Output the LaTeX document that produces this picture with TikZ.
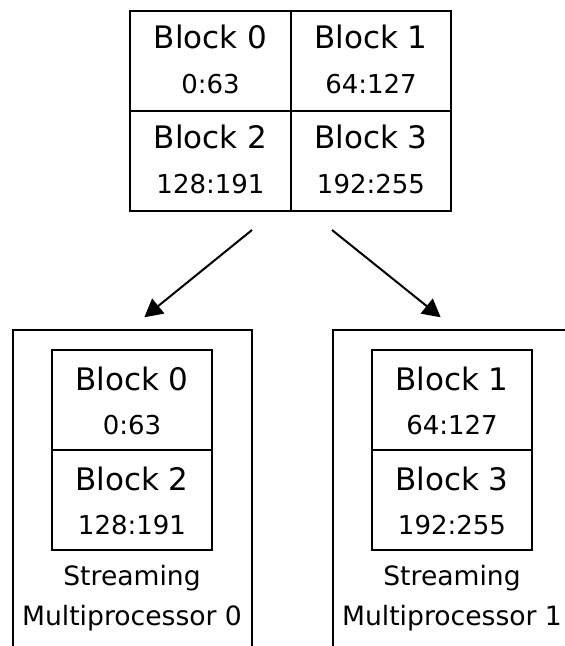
\documentclass[tikz,border=0pt]{standalone}
\usepackage{fontspec}
\setmainfont{DejaVu Sans}
\usetikzlibrary{arrows.meta}
\begin{document}
\begin{tikzpicture}[x=1pt,y=-1pt,line width=2pt,
  cell/.style={draw,line width=2pt,minimum width=160.5pt,minimum height=100pt,inner sep=0pt},
  smbox/.style={draw,line width=2pt,minimum width=239.5pt,minimum height=400pt,inner sep=0pt},
  blk/.style={font=\fontsize{31}{37}\selectfont,inner sep=0pt,anchor=base},
  rng/.style={font=\fontsize{26}{31}\selectfont,inner sep=0pt,anchor=base},
  smtxt/.style={font=\fontsize{26.6}{31}\selectfont,inner sep=0pt,anchor=base},
  arr/.style={-{Triangle[length=18pt,width=19pt]},line width=2pt}]
\clip (0,0) rectangle (565,646);
% top grid
\node[cell] (c0) at (210.5,60.5) {};
\node[cell] (c1) at (371,60.5) {};
\node[cell] (c2) at (210.5,160.5) {};
\node[cell] (c3) at (371,160.5) {};
\node[blk] (b0) at (210.5,48.3) {Block 0};
\node[rng] (r0) at (210.5,93.5) {0:63};
\node[blk] (b1) at (371,48.3) {Block 1};
\node[rng] (r1) at (371,93.5) {64:127};
\node[blk] (b2) at (210.5,148.3) {Block 2};
\node[rng] (r2) at (210.5,193.5) {128:191};
\node[blk] (b3) at (371,148.3) {Block 3};
\node[rng] (r3) at (371,193.5) {192:255};
% arrows
\coordinate (a0s) at (252,230);
\coordinate (a0e) at (144.3,317.3);
\coordinate (a1s) at (332,230);
\coordinate (a1e) at (440.7,317.3);
\draw[arr] (a0s) -- (a0e);
\draw[arr] (a1s) -- (a1e);
% streaming multiprocessors
\node[smbox] (sm0) at (132.4,530) {};
\node[smbox] (sm1) at (452.4,530) {};
\node[cell] (d0) at (132,400) {};
\node[cell] (d2) at (132,500) {};
\node[cell] (d1) at (452,400) {};
\node[cell] (d3) at (452,500) {};
\node[blk] (e0) at (132,390) {Block 0};
\node[rng] (s0) at (132,434.5) {0:63};
\node[blk] (e2) at (132,490) {Block 2};
\node[rng] (s2) at (132,534.5) {128:191};
\node[blk] (e1) at (452,390) {Block 1};
\node[rng] (s1) at (452,434.5) {64:127};
\node[blk] (e3) at (452,490) {Block 3};
\node[rng] (s3) at (452,534.5) {192:255};
\node[smtxt] (t0a) at (132,585.5) {Streaming};
\node[smtxt] (t0b) at (132,625) {Multiprocessor 0};
\node[smtxt] (t1a) at (452,585.5) {Streaming};
\node[smtxt] (t1b) at (452,625) {Multiprocessor 1};
\end{tikzpicture}
\end{document}
